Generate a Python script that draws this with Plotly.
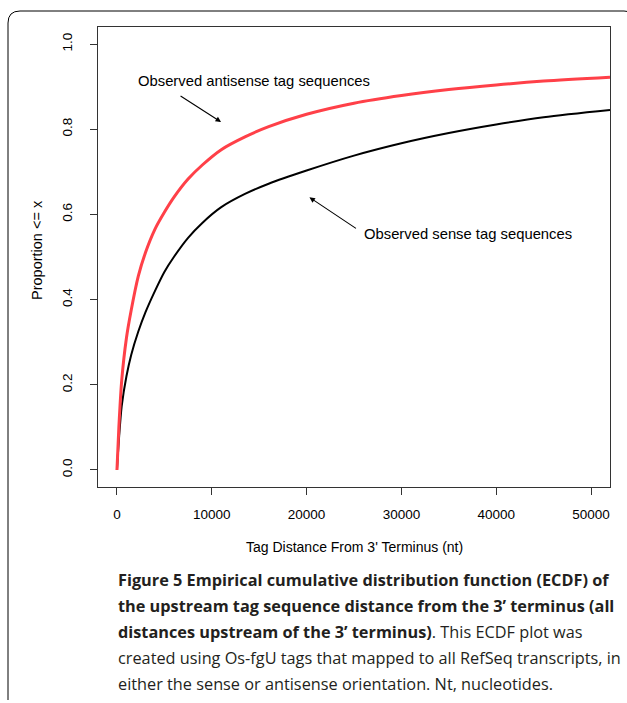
import plotly.graph_objects as go

# ---- data ----
distance = [0, 200, 500, 1000, 1500, 2250, 3000, 4000, 5000, 6000, 7500, 9000,
            11000, 13500, 16000, 20000, 25000, 30000, 35000, 40000, 45000, 52000]
antisense = [0.0, 0.10, 0.21, 0.31, 0.375, 0.455, 0.51, 0.565, 0.605, 0.64, 0.683, 0.716,
             0.752, 0.782, 0.806, 0.835, 0.861, 0.879, 0.893, 0.904, 0.913, 0.922]
sense = [0.0, 0.07, 0.15, 0.22, 0.27, 0.325, 0.37, 0.42, 0.465, 0.50, 0.545, 0.58,
         0.617, 0.648, 0.672, 0.703, 0.738, 0.767, 0.791, 0.811, 0.828, 0.845]
x_ticks = [0, 10000, 20000, 30000, 40000, 50000]
x_tick_labels = ["0", "10000", "20000", "30000", "40000", "50000"]
y_ticks = [0.0, 0.2, 0.4, 0.6, 0.8, 1.0]
y_tick_labels = ["0.0", "0.2", "0.4", "0.6", "0.8", "1.0"]

caption_lines = [
    "<b>Figure 5 Empirical cumulative distribution function (ECDF) of</b>",
    "<b>the upstream tag sequence distance from the 3’ terminus (all</b>",
    "<b>distances upstream of the 3’ terminus)</b>. This ECDF plot was",
    "created using Os-fgU tags that mapped to all RefSeq transcripts, in",
    "either the sense or antisense orientation. Nt, nucleotides.",
]

# ---- layout geometry (page pixels) ----
W, H = 627, 703
PLOT_L, PLOT_R, PLOT_T, PLOT_B = 98, 610, 27, 487   # plot box in page pixels
L, T = PLOT_L, PLOT_T
R, B = W - PLOT_R, H - PLOT_B
pw = PLOT_R - PLOT_L
ph = PLOT_B - PLOT_T


def px(x):
    return (x - PLOT_L) / pw


def py(y):
    return (PLOT_B - y) / ph


AX = "Liberation Sans, Arial, Helvetica, sans-serif"
CAP = "Open Sans, Noto Sans, sans-serif"

fig = go.Figure()
fig.add_trace(go.Scatter(x=distance, y=sense, mode="lines",
                         line=dict(color="black", width=2, shape="spline", smoothing=0.8),
                         hoverinfo="skip", showlegend=False))
fig.add_trace(go.Scatter(x=distance, y=antisense, mode="lines",
                         line=dict(color="#FF4048", width=3, shape="spline", smoothing=0.8),
                         hoverinfo="skip", showlegend=False))

annotations = []
# curve labels and arrows
annotations.append(dict(x=px(136), y=py(81), xref="paper", yref="paper",
                        text="Observed antisense tag sequences",
                        showarrow=False, xanchor="left", yanchor="middle",
                        font=dict(family=AX, size=14.8, color="black")))
annotations.append(dict(x=10980, y=0.817, xref="x", yref="y", text="", showarrow=True,
                        ax=-42, ay=-27, arrowhead=2, arrowsize=1, arrowwidth=1.1, arrowcolor="black"))
annotations.append(dict(x=px(362), y=py(234), xref="paper", yref="paper",
                        text="Observed sense tag sequences",
                        showarrow=False, xanchor="left", yanchor="middle",
                        font=dict(family=AX, size=14.8, color="black")))
annotations.append(dict(x=20300, y=0.640, xref="x", yref="y", text="", showarrow=True,
                        ax=48, ay=32, arrowhead=2, arrowsize=1, arrowwidth=1.1, arrowcolor="black"))
# axis titles
annotations.append(dict(x=px(354), y=py(547), xref="paper", yref="paper",
                        text="Tag Distance From 3' Terminus (nt)", showarrow=False,
                        xanchor="center", yanchor="middle",
                        font=dict(family=AX, size=14, color="black")))
annotations.append(dict(x=px(37), y=py(250), xref="paper", yref="paper",
                        text="Proportion <= x", showarrow=False, textangle=-90,
                        xanchor="center", yanchor="middle",
                        font=dict(family=AX, size=14.5, color="black")))
# caption
for i, line in enumerate(caption_lines):
    annotations.append(dict(x=px(116), y=py(580 + 26 * i), xref="paper", yref="paper",
                            text=line, showarrow=False, xanchor="left", yanchor="middle",
                            font=dict(family=CAP, size=16.3, color="#231f20")))

# rounded frame (page pixels); right side lies just past the page edge
x0, x1 = px(8), px(636)
y0, y1 = py(11), py(712)
rx = 12 / pw
ry = 12 / ph
frame = (f"M {x0},{y1 + ry} L {x0},{y0 - ry} Q {x0},{y0} {x0 + rx},{y0} "
         f"L {x1 - rx},{y0} Q {x1},{y0} {x1},{y0 - ry} L {x1},{y1 + ry}")

fig.update_layout(
    width=W, height=H,
    margin=dict(l=L, r=R, t=T, b=B, autoexpand=False),
    paper_bgcolor="white", plot_bgcolor="white",
    annotations=annotations,
    shapes=[dict(type="path", path=frame, xref="paper", yref="paper",
                 line=dict(color="black", width=1))],
    xaxis=dict(range=[-2000, 52000], tickvals=x_ticks, ticktext=x_tick_labels,
               ticks="outside", ticklen=7, tickwidth=1, tickcolor="#333",
               showline=True, mirror=True, linecolor="#333", linewidth=1,
               showgrid=False, zeroline=False, ticklabelstandoff=8,
               tickfont=dict(family=AX, size=13.5, color="black")),
    yaxis=dict(range=[-0.04, 1.04], tickvals=y_ticks, ticktext=y_tick_labels,
               ticks="outside", ticklen=7, tickwidth=1, tickcolor="#333",
               showline=True, mirror=True, linecolor="#333", linewidth=1,
               showgrid=False, zeroline=False, tickangle=-90, ticklabelstandoff=13,
               tickfont=dict(family=AX, size=13.5, color="black")),
)

fig.write_html("out.html",
               config={"displayModeBar": False},
               post_script="document.body.style.margin='0';"
                           "document.documentElement.style.overflow='hidden';")
